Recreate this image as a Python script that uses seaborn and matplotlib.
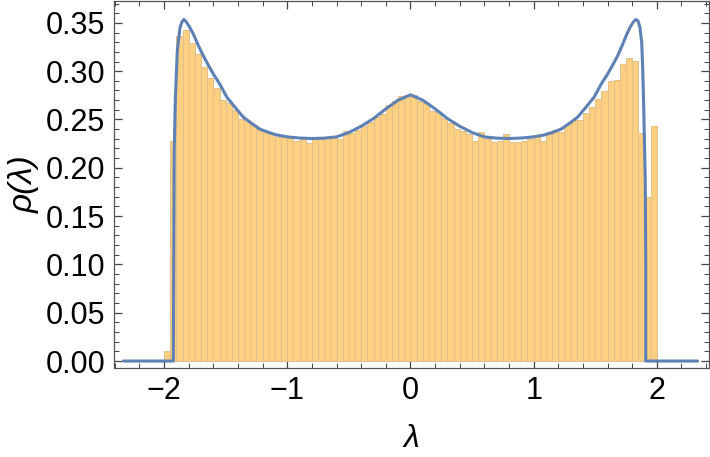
import numpy as np
import pandas as pd
import seaborn as sns
import matplotlib.pyplot as plt
from matplotlib.ticker import MultipleLocator

# histogram: 80 bins of width 0.05 from -2 to 2
bin_lo, bin_hi, bin_w = -2.0, 2.0, 0.05
bar_heights = [
    0.010, 0.228, 0.336, 0.343, 0.329, 0.318, 0.304, 0.293, 0.283, 0.270,
    0.267, 0.260, 0.251, 0.249, 0.2445, 0.240, 0.2376, 0.2345, 0.232, 0.2317,
    0.2307, 0.228, 0.230, 0.2255, 0.2297, 0.2297, 0.2304, 0.2317, 0.2297, 0.2376,
    0.236, 0.239, 0.2428, 0.247, 0.2524, 0.256, 0.2645, 0.269, 0.2745, 0.2755,
    0.2758, 0.269, 0.267, 0.2586, 0.2576, 0.2514, 0.246, 0.240, 0.238, 0.2352,
    0.228, 0.2366, 0.2297, 0.2262, 0.2273, 0.2352, 0.2262, 0.2262, 0.2273, 0.230,
    0.2324, 0.228, 0.2366, 0.2386, 0.237, 0.2445, 0.249, 0.249, 0.257, 0.2627,
    0.2713, 0.279, 0.290, 0.2913, 0.3075, 0.3137, 0.311, 0.236, 0.170, 0.2435,
]

# density curve
curve_lam = [
    -2.33, -1.925, -1.922, -1.918, -1.909, -1.893, -1.871, -1.855, -1.839, -1.82,
    -1.79, -1.763, -1.72, -1.682, -1.64, -1.60, -1.55, -1.49, -1.42, -1.357,
    -1.29, -1.222, -1.15, -1.086, -1.0, -0.9, -0.8, -0.7, -0.6, -0.5,
    -0.4, -0.3, -0.2, -0.1, 0.0, 0.1, 0.2, 0.3, 0.4, 0.5,
    0.6, 0.7, 0.8, 0.9, 1.0, 1.086, 1.15, 1.222, 1.29, 1.357,
    1.42, 1.49, 1.55, 1.60, 1.64, 1.682, 1.72, 1.755, 1.785, 1.81,
    1.83, 1.848, 1.863, 1.877, 1.885, 1.892, 1.898, 1.906, 1.91, 1.91, 2.33,
]
curve_rho = [
    0.0, 0.0, 0.10, 0.218, 0.270, 0.321, 0.345, 0.351, 0.3535, 0.351,
    0.345, 0.3385, 0.326, 0.316, 0.306, 0.297, 0.287, 0.273, 0.262, 0.2524,
    0.246, 0.240, 0.2365, 0.234, 0.232, 0.2308, 0.2303, 0.2307, 0.232, 0.2365,
    0.243, 0.251, 0.261, 0.270, 0.2755, 0.270, 0.261, 0.251, 0.243, 0.2365,
    0.232, 0.2307, 0.2303, 0.2308, 0.232, 0.234, 0.2365, 0.240, 0.246, 0.2524,
    0.262, 0.273, 0.287, 0.297, 0.306, 0.316, 0.327, 0.338, 0.346, 0.351,
    0.3535, 0.352, 0.345, 0.330, 0.304, 0.270, 0.235, 0.187, 0.10, 0.0, 0.0,
]

centers = bin_lo + bin_w * (np.arange(len(bar_heights)) + 0.5)
bars = pd.DataFrame({"lam": centers, "h": bar_heights})
curve = pd.DataFrame({"lam": curve_lam, "rho": curve_rho})

sns.set_style("ticks")
plt.rcParams["font.family"] = ["Liberation Sans", "DejaVu Sans"]
plt.rcParams["text.color"] = "black"
plt.rcParams["axes.labelcolor"] = "black"

fig = plt.figure(figsize=(7.1, 4.57), dpi=100)
ax = fig.add_axes([0.160, 0.1954, 0.838, 0.803])

sns.histplot(data=bars, x="lam", weights="h", binwidth=bin_w, binrange=(bin_lo, bin_hi),
             stat="count", color="#FDCF80", edgecolor="#E2BF8C", linewidth=0.7,
             alpha=1.0, ax=ax)
sns.lineplot(data=curve, x="lam", y="rho", sort=False, estimator=None,
             color="#5E81B5", linewidth=2.2, ax=ax)

ax.set_xlim(-2.41, 2.42)
ax.set_ylim(-0.0069, 0.3729)
ax.xaxis.set_major_locator(MultipleLocator(1))
ax.xaxis.set_minor_locator(MultipleLocator(0.2))
ax.yaxis.set_major_locator(MultipleLocator(0.05))
ax.yaxis.set_minor_locator(MultipleLocator(0.01))
ax.yaxis.set_major_formatter(plt.FormatStrFormatter("%.2f"))

for s in ax.spines.values():
    s.set_color("#555555")
    s.set_linewidth(0.9)
ax.tick_params(which="both", direction="in", top=True, right=True, color="#444444",
               labelcolor="black")
ax.tick_params(which="major", length=6, width=0.9, labelsize=22, pad=6)
ax.tick_params(which="minor", length=3.5, width=0.7)

ax.set_xlabel("λ", fontsize=23, style="italic", labelpad=13)
ax.set_ylabel("ρ(λ)", fontsize=24, style="italic", labelpad=4)

fig.savefig("out.png", dpi=100)
